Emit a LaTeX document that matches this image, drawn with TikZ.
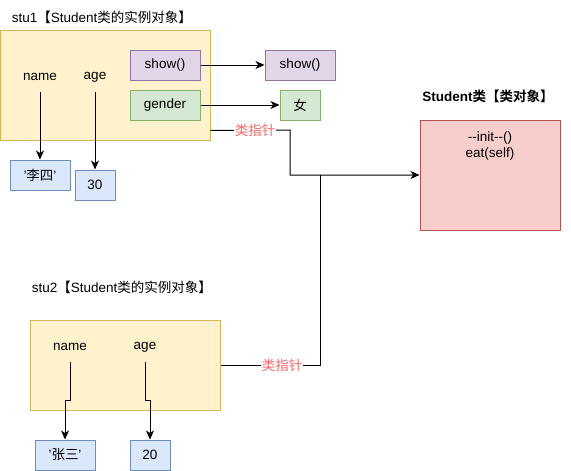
\documentclass[tikz,border=0pt]{standalone}
\usepackage{fontspec}
\setmainfont{Liberation Sans}
\newfontfamily\cjk{Noto Sans CJK SC}[BoldFont={Noto Sans CJK SC Bold}]
\usetikzlibrary{arrows.meta,positioning}
\definecolor{objfill}{HTML}{FFF2CC}
\definecolor{objline}{HTML}{D6B656}
\definecolor{funfill}{HTML}{E1D5E7}
\definecolor{funline}{HTML}{9673A6}
\definecolor{attfill}{HTML}{D5E8D4}
\definecolor{attline}{HTML}{82B366}
\definecolor{valfill}{HTML}{DAE8FC}
\definecolor{valline}{HTML}{6C8EBF}
\definecolor{clsfill}{HTML}{F8CECC}
\definecolor{clsline}{HTML}{B85450}
\definecolor{ptrred}{HTML}{FF6666}
\def\zh#1{{\cjk #1}}

\begin{document}
\begin{tikzpicture}[x=1pt,y=-1pt,>={Stealth[length=9pt,width=8pt,inset=2.5pt]},line width=1pt,font=\fontsize{13.5}{16}\selectfont]
    \tikzstyle{obj}=[draw=objline,fill=objfill,inner sep=0pt]
    \tikzstyle{fun}=[draw=funline,fill=funfill,minimum width=70pt,minimum height=30pt,inner sep=0pt]
    \tikzstyle{att}=[draw=attline,fill=attfill,minimum height=30pt,inner sep=0pt]
    \tikzstyle{val}=[draw=valline,fill=valfill,minimum height=30pt,inner sep=0pt]
    \tikzstyle{field}=[minimum height=28pt,inner sep=0pt]
    \tikzstyle{ptr}=[fill=white,text=ptrred,inner sep=1pt]
    \useasboundingbox (0,0) rectangle (571,471);
    % stu1
    \node[anchor=west] (t1) at (8,17) {stu1\zh{【}Student\zh{类的实例对象】}};
    \node[obj,minimum width=209.5pt,minimum height=110pt] (stu1) at (105.25,85) {};
    \node[field] (name1) at (40,77) {name};
    \node[field] (age1) at (95,77) {age};
    \node[fun] (show1) at (165,65) {show()};
    \node[att,minimum width=70pt] (gen1) at (165,105) {gender};
    \node[fun] (show2) at (300,65) {show()};
    \node[att,minimum width=40pt] (nv) at (300,105) {\zh{女}};
    \node[val,minimum width=60pt] (ls) at (40,175) {'\zh{李四}'};
    \node[val,minimum width=40pt] (n30) at (95,185) {30};
    \draw[->] (name1.south) -- (ls.north);
    \draw[->] (age1.south) -- (n30.north);
    \draw[->] (show1.east) -- (show2.west);
    \draw[->] (gen1.east) -- (nv.west);
    % class object
    \node (t3) at (488,96) {\bfseries Student\zh{类【类对象】}};
    \node[draw=clsline,fill=clsfill,minimum width=140pt,minimum height=110pt] (cls) at (490,175) {};
    \node[align=center,anchor=north,inner sep=0pt] (meth) at (490,131) {-{}-init-{}-()\\eat(self)};
    % stu2
    \node[anchor=west] (t2) at (28,287) {stu2\zh{【}Student\zh{类的实例对象】}};
    \node[obj,minimum width=190pt,minimum height=90pt] (stu2) at (125,365) {};
    \node[field] (name2) at (70,347) {name};
    \node[field] (age2) at (145,347) {age};
    \node[val,minimum width=60pt] (zs) at (65,455) {'\zh{张三}'};
    \node[val,minimum width=40pt] (n20) at (150,455) {20};
    \draw[->] (name2.south) -- ++(0,39) -| (zs.north);
    \draw[->] (age2.south) -- ++(0,39) -| (n20.north);
    % class pointers
    \coordinate (bend1) at (290,130);
    \coordinate (bend2) at (320,365);
    \coordinate (joint) at (320,175);
    \draw[->] ([yshift=10pt]stu1.south east) -- node[ptr,pos=0.56] {\zh{类指针}} (bend1) |- (cls.west);
    \draw (stu2.east) -- node[ptr,pos=0.62] {\zh{类指针}} (bend2) -- (joint);
\end{tikzpicture}
\end{document}
